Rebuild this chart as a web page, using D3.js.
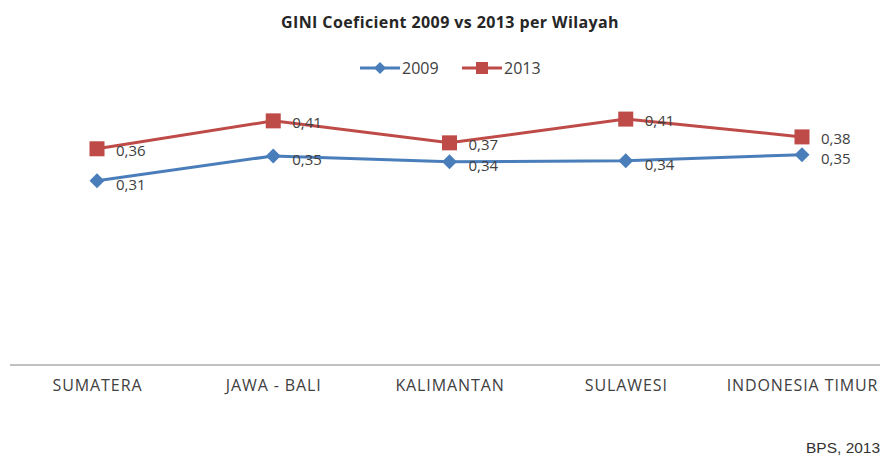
<!DOCTYPE html>
<html><head><meta charset="utf-8">
<script src="https://cdn.jsdelivr.net/npm/d3@7"></script>
<style>body{margin:0;background:#fff}svg{display:block}</style>
</head><body>
<svg id="c" width="880" height="457"></svg>
<script>
const categories = ["SUMATERA","JAWA - BALI","KALIMANTAN","SULAWESI","INDONESIA TIMUR"];
const years = ["2009","2013"];
const gini2009 = [0.310, 0.352, 0.342, 0.344, 0.354];
const gini2013 = [0.364, 0.411, 0.374, 0.414, 0.384];
const title = "GINI Coeficient 2009 vs 2013 per Wilayah";
const source = "BPS, 2013";

const svg = d3.select("#c");
const x = d3.scalePoint().domain(categories).range([97, 802]);
const y = d3.scaleLinear().domain([0, 0.4]).range([365, 127.4]);
const fmt = v => d3.format(".2f")(v).replace(".", ",");
const colors = {"2009":"#4a7ebb","2013":"#be4b48"};
const seriesData = {"2009":gini2009,"2013":gini2013};
const fontMain = "'Open Sans', 'Liberation Sans', sans-serif";

svg.append("text").attr("x",450).attr("y",28).attr("text-anchor","middle")
  .attr("font-family",fontMain).attr("font-weight",700).attr("font-size",16)
  .attr("letter-spacing",0.4).attr("fill","#262626").text(title);

// axis
const xAxis = d3.axisBottom(x).tickSize(0).tickPadding(15);
const ax = svg.append("g").attr("transform","translate(0,365)").call(xAxis);
ax.select(".domain").remove();
ax.append("line").attr("x1",10).attr("x2",880).attr("stroke","#c0c0c0").attr("stroke-width",2);
ax.selectAll(".tick text").attr("font-family",fontMain).attr("font-size",16)
  .attr("font-weight",400).attr("letter-spacing",0.9).attr("fill","#404040");

function marker(g, yr, cx, cy){
  if(yr==="2009"){
    g.append("path").attr("d",`M${cx},${cy-7.5}L${cx+7.5},${cy}L${cx},${cy+7.5}L${cx-7.5},${cy}Z`).attr("fill",colors[yr]);
  } else {
    g.append("rect").attr("x",cx-7.5).attr("y",cy-7.5).attr("width",15).attr("height",15).attr("fill",colors[yr]);
  }
}

const line = d3.line().x((d,i)=>x(categories[i])).y(d=>y(d));
years.forEach(yr=>{
  const g = svg.append("g");
  g.append("path").datum(seriesData[yr]).attr("d",line).attr("fill","none")
    .attr("stroke",colors[yr]).attr("stroke-width",3);
  seriesData[yr].forEach((v,i)=>marker(g,yr,x(categories[i]),y(v)));
  g.selectAll("text.lbl").data(seriesData[yr]).join("text").attr("class","lbl")
    .attr("x",(d,i)=>x(categories[i])+19).attr("y",d=>y(d)+(yr==="2013"?7:9))
    .attr("font-family",fontMain).attr("font-size",15).attr("fill","#404040").text(fmt);
});

// legend
const leg = [{yr:"2009",x0:360},{yr:"2013",x0:462}];
leg.forEach(l=>{
  const g = svg.append("g");
  g.append("line").attr("x1",l.x0).attr("x2",l.x0+40).attr("y1",68).attr("y2",68)
    .attr("stroke",colors[l.yr]).attr("stroke-width",3);
  if(l.yr==="2009"){
    g.append("path").attr("d",`M${l.x0+20},62L${l.x0+26},68L${l.x0+20},74L${l.x0+14},68Z`).attr("fill",colors[l.yr]);
  } else {
    g.append("rect").attr("x",l.x0+14).attr("y",62).attr("width",12).attr("height",12).attr("fill",colors[l.yr]);
  }
  g.append("text").attr("x",l.x0+42).attr("y",74).attr("font-family",fontMain)
    .attr("font-size",16).attr("fill","#404040").text(l.yr);
});

svg.append("text").attr("x",806).attr("y",453).attr("font-family","'Liberation Sans', Arial, sans-serif")
  .attr("font-size",15.5).attr("fill","#333").text(source);
</script>
</body></html>
